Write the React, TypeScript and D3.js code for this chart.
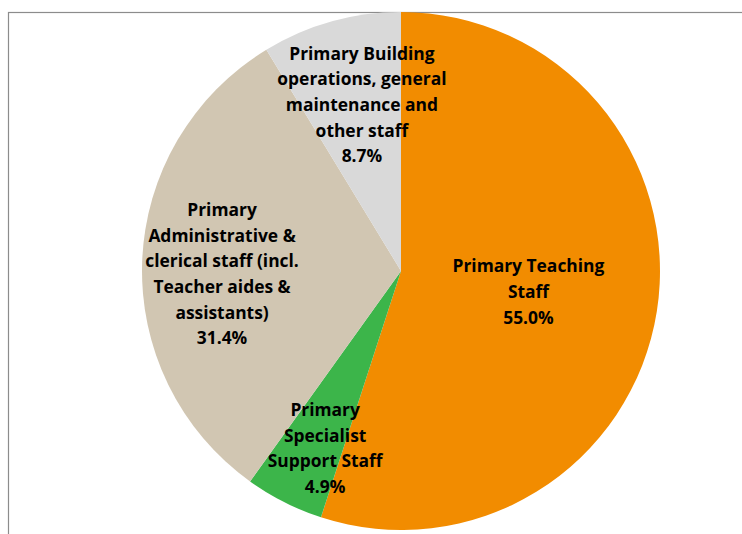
import React from "react";
import * as d3 from "d3";

const categories = [
  "Primary Teaching Staff",
  "Primary Specialist Support Staff",
  "Primary Administrative & clerical staff (incl. Teacher aides & assistants)",
  "Primary Building operations, general maintenance and other staff",
];
const values = [55.0, 4.9, 31.4, 8.7];
const labelLines = [
  ["Primary Teaching", "Staff"],
  ["Primary", "Specialist", "Support Staff"],
  ["Primary", "Administrative &", "clerical staff (incl.", "Teacher aides &", "assistants)"],
  ["Primary Building", "operations, general", "maintenance and", "other staff"],
];
const colors = ["#F28C00", "#3CB54A", "#D1C6B2", "#D9D9D9"];
// label block centre, as a fraction of the radius (x right, y down)
const labelOffset: [number, number][] = [
  [0.492, 0.081],
  [-0.293, 0.685],
  [-0.691, 0.012],
  [-0.151, -0.641],
];

const W = 742;
const H = 534;
const cx = 401;
const cy = 271;
const R = 259;
const lineH = 25.7;

export default function App() {
  const pie = d3.pie<number>().sort(null).value((d) => d)(values);
  const arc = d3.arc<d3.PieArcDatum<number>>().innerRadius(0).outerRadius(R);
  const fmt = d3.format(".1f");
  return (
    <svg
      width={W}
      height={H}
      style={{ position: "absolute", left: 0, top: 0, background: "#fff" }}
    >
      <rect x={8.5} y={12.5} width={W + 20} height={H + 20} fill="#fff" stroke="#8c8c8c" strokeWidth={1.2} />
      <g transform={`translate(${cx},${cy})`}>
        {pie.map((p, i) => (
          <path key={categories[i]} d={arc(p) || ""} fill={colors[i]} />
        ))}
        {pie.map((p, i) => {
          const x = R * labelOffset[i][0];
          const y = R * labelOffset[i][1];
          const lines = [...labelLines[i], fmt(values[i]) + "%"];
          const y0 = y - ((lines.length - 1) * lineH) / 2;
          return (
            <text
              key={"l" + i}
              textAnchor="middle"
              fontFamily="'Open Sans', Lato, sans-serif"
              fontWeight="bold"
              fontSize={17.4}
              fill="#000"
            >
              {lines.map((ln, j) => (
                <tspan key={j} x={x} y={y0 + j * lineH} dy="0.35em">
                  {ln}
                </tspan>
              ))}
            </text>
          );
        })}
      </g>
    </svg>
  );
}
